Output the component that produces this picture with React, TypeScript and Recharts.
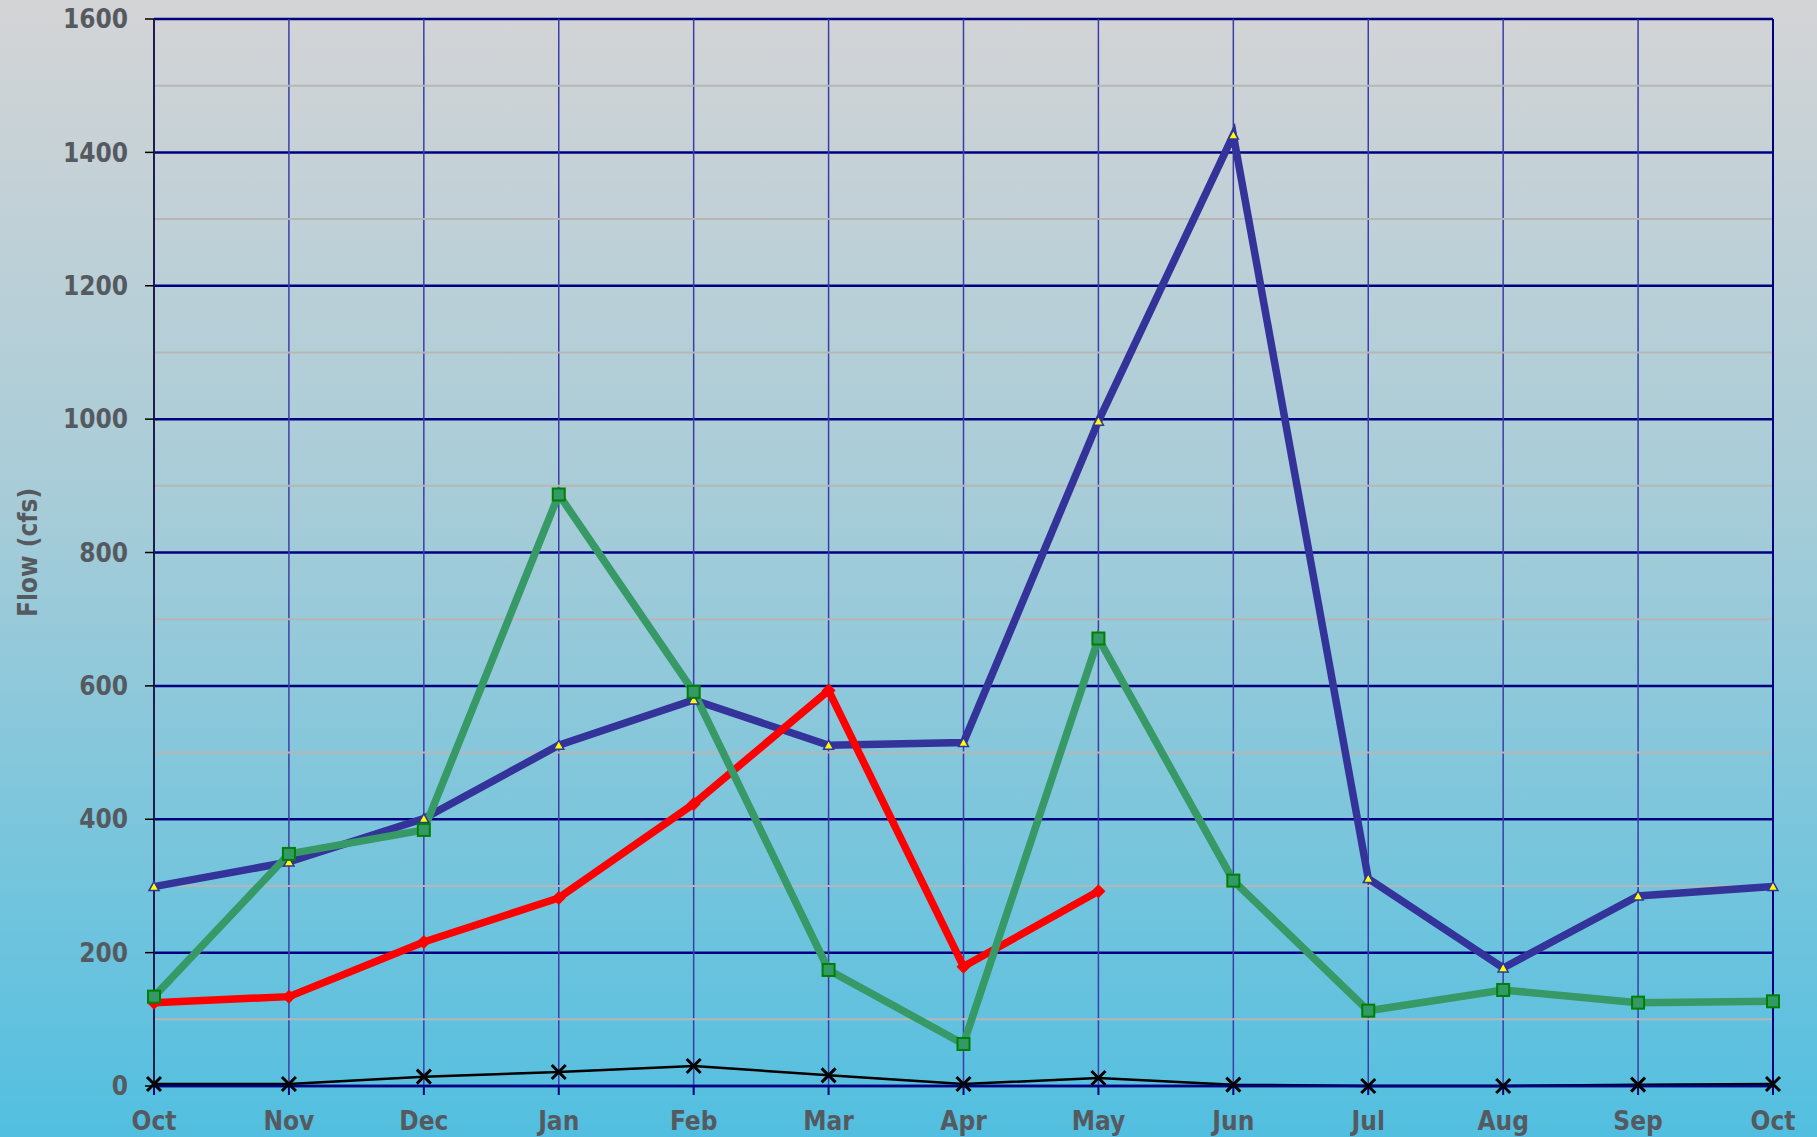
import React from "react";
import {
  LineChart,
  Line,
  XAxis,
  YAxis,
  CartesianGrid,
  ReferenceLine,
  Label,
} from "recharts";

const months = ["Oct", "Nov", "Dec", "Jan", "Feb", "Mar", "Apr", "May", "Jun", "Jul", "Aug", "Sep", "Oct"];
const blueFlow = [299, 336, 401, 511, 579, 511, 515, 997, 1426, 311, 177, 285, 299];
const greenFlow = [134, 348, 384, 887, 591, 174, 63, 671, 308, 113, 144, 125, 127];
const redFlow: (number | null)[] = [125, 134, 216, 282, 423, 593, 179, 292, null, null, null, null, null];
const blackFlow = [3, 3, 14, 21, 30, 16, 3, 12, 2, 0, 0, 2, 3];

const yTicks = [0, 200, 400, 600, 800, 1000, 1200, 1400, 1600];
const minorLines = [100, 300, 500, 700, 900, 1100, 1300, 1500];

const data = months.map((m, i) => ({
  month: m,
  blue: blueFlow[i],
  green: greenFlow[i],
  red: redFlow[i],
  black: blackFlow[i],
}));

const FONT = "'DejaVu Sans Condensed', 'DejaVu Sans', sans-serif";
const TEXT = "#555a61";

const Triangle = (p: any) => {
  if (p.cx == null || p.cy == null) return <g key={p.key} />;
  const { cx, cy } = p;
  return (
    <path
      key={p.key}
      d={`M${cx},${cy - 5} L${cx + 5},${cy + 4} L${cx - 5},${cy + 4} Z`}
      fill="#ffff00"
      stroke="#333399"
      strokeWidth={1.5}
    />
  );
};

const Square = (p: any) => {
  if (p.cx == null || p.cy == null) return <g key={p.key} />;
  return (
    <rect
      key={p.key}
      x={p.cx - 6}
      y={p.cy - 6}
      width={12}
      height={12}
      fill="#339966"
      stroke="#008000"
      strokeWidth={2}
    />
  );
};

const Diamond = (p: any) => {
  if (p.cx == null || p.cy == null) return <g key={p.key} />;
  const { cx, cy } = p;
  return (
    <path
      key={p.key}
      d={`M${cx},${cy - 7} L${cx + 7},${cy} L${cx},${cy + 7} L${cx - 7},${cy} Z`}
      fill="#ff0000"
    />
  );
};

const Cross = (p: any) => {
  if (p.cx == null || p.cy == null) return <g key={p.key} />;
  const { cx, cy } = p;
  return (
    <path
      key={p.key}
      d={`M${cx - 7},${cy - 7} L${cx + 7},${cy + 7} M${cx + 7},${cy - 7} L${cx - 7},${cy + 7}`}
      stroke="#000000"
      strokeWidth={3}
    />
  );
};

export default function App() {
  return (
    <div
      style={{
        position: "absolute",
        left: 0,
        top: 0,
        width: 1817,
        height: 1137,
        background: "linear-gradient(to bottom, #d4d4d6 0%, #a6ccd8 45%, #52bfe0 100%)",
        overflow: "hidden",
      }}
    >
      <LineChart
        width={1817}
        height={1137}
        data={data}
        margin={{ top: 19, right: 44, bottom: 0, left: 0 }}
      >
        {minorLines.map((v) => (
          <ReferenceLine key={v} y={v} stroke="#b6b6b6" strokeWidth={2} />
        ))}
        <CartesianGrid vertical={false} stroke="#000080" strokeWidth={2.5} />
        <CartesianGrid horizontal={false} stroke="#3d3da8" strokeWidth={1.5} />
        <XAxis
          dataKey="month"
          allowDuplicatedCategory
          height={51}
          axisLine={{ stroke: "#000080", strokeWidth: 2.5 }}
          tickLine={{ stroke: "#000080", strokeWidth: 2 }}
          tickSize={9}
          tickMargin={17}
          interval={0}
          tick={{ fill: TEXT, fontSize: 26, fontWeight: "bold", fontFamily: FONT }}
        />
        <YAxis
          domain={[0, 1600]}
          ticks={yTicks}
          width={154}
          axisLine={{ stroke: "#1e1e4e", strokeWidth: 2 }}
          tickLine={{ stroke: "#000000", strokeWidth: 1.5 }}
          tickSize={9}
          tickMargin={17}
          tick={{ fill: TEXT, fontSize: 26, fontWeight: "bold", fontFamily: FONT }}
        >
          <Label
            content={(props: any) => {
              const vb = props.viewBox || { y: 0, height: 0 };
              const cy = vb.y + vb.height / 2;
              return (
                <text
                  x={28}
                  y={cy}
                  transform={`rotate(-90 28 ${cy})`}
                  textAnchor="middle"
                  dominantBaseline="central"
                  fill={TEXT}
                  fontSize={26}
                  fontWeight="bold"
                  fontFamily={FONT}
                >
                  Flow (cfs)
                </text>
              );
            }}
          />
        </YAxis>
        <ReferenceLine x={data.length - 1} stroke="#000080" strokeWidth={2} />
        <Line
          dataKey="black"
          stroke="#000000"
          strokeWidth={2.5}
          dot={Cross}
          activeDot={false}
          isAnimationActive={false}
        />
        <Line
          dataKey="blue"
          stroke="#333399"
          strokeWidth={7.5}
          dot={Triangle}
          activeDot={false}
          isAnimationActive={false}
        />
        <Line
          dataKey="red"
          stroke="#ff0000"
          strokeWidth={7.5}
          dot={Diamond}
          activeDot={false}
          isAnimationActive={false}
        />
        <Line
          dataKey="green"
          stroke="#369966"
          strokeWidth={7.5}
          dot={Square}
          activeDot={false}
          isAnimationActive={false}
        />
      </LineChart>
    </div>
  );
}
